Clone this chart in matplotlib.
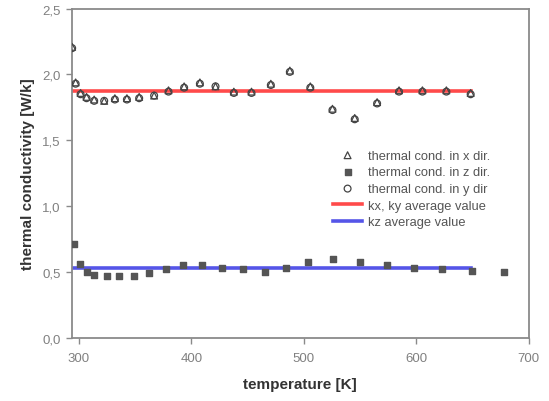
import matplotlib.pyplot as plt
from matplotlib.ticker import FuncFormatter

plt.rcParams['font.family'] = ['Liberation Sans', 'DejaVu Sans']

# thermal conductivity in x / y direction (overlapping markers)
temp_xy = [294.0, 297.1, 301.5, 306.8, 313.6, 322.5, 332.0, 342.7, 353.6, 366.9,
           379.7, 393.6, 407.6, 421.5, 437.8, 453.5, 470.7, 487.6, 505.8, 525.5,
           545.3, 565.2, 584.7, 605.5, 626.8, 648.4]
k_x = [2.21, 1.94, 1.86, 1.83, 1.81, 1.80, 1.82, 1.82, 1.83, 1.84,
       1.88, 1.91, 1.94, 1.91, 1.87, 1.87, 1.93, 2.03, 1.91, 1.74,
       1.67, 1.79, 1.88, 1.88, 1.88, 1.86]
k_y = [2.20, 1.93, 1.85, 1.82, 1.80, 1.80, 1.81, 1.81, 1.82, 1.84,
       1.87, 1.90, 1.93, 1.91, 1.86, 1.86, 1.92, 2.02, 1.90, 1.73,
       1.66, 1.78, 1.87, 1.87, 1.87, 1.85]

# thermal conductivity in z direction
temp_z = [295.6, 300.9, 306.8, 313.6, 324.6, 335.8, 348.9, 362.2, 377.3, 392.7,
          409.3, 427.4, 446.0, 465.3, 484.6, 504.0, 526.0, 549.8, 574.0, 598.0,
          622.9, 650.0, 678.0]
k_z = [0.71, 0.56, 0.50, 0.48, 0.47, 0.47, 0.47, 0.49, 0.52, 0.55,
       0.55, 0.53, 0.52, 0.50, 0.53, 0.58, 0.60, 0.58, 0.55, 0.53,
       0.52, 0.51, 0.50]

# average values
avg_range = [293.8, 648.5]
kxy_avg = 1.876
kz_avg = 0.53

fig = plt.figure(figsize=(5.49, 4.02), dpi=100)
ax = fig.add_axes([0.131, 0.157, 0.832, 0.819])

ax.plot(avg_range, [kxy_avg, kxy_avg], color='#ff4a4a', lw=2.6, zorder=2,
        label='kx, ky average value')
ax.plot(avg_range, [kz_avg, kz_avg], color='#5555e8', lw=2.6, zorder=2,
        label='kz average value')

tri = ax.scatter(temp_xy, k_x, marker='^', s=24, facecolors='none',
                 edgecolors='#444444', linewidths=0.9, zorder=3)
circ = ax.scatter(temp_xy, k_y, marker='o', s=24, facecolors='none',
                  edgecolors='#444444', linewidths=0.9, zorder=3)
sq = ax.scatter(temp_z, k_z, marker='s', s=20, color='#555555', zorder=3)

ax.set_xlim(293.8, 700)
ax.set_ylim(0, 2.5)
ax.set_xticks([300, 400, 500, 600, 700])
ax.set_yticks([0, 0.5, 1.0, 1.5, 2.0, 2.5])
ax.yaxis.set_major_formatter(FuncFormatter(lambda v, p: f'{v:.1f}'.replace('.', ',')))

for s in ax.spines.values():
    s.set_color('#8a8a8a')
    s.set_linewidth(1.3)
ax.tick_params(direction='out', length=4.5, width=1, color='#8a8a8a',
               labelcolor='#808080', labelsize=9.5)
ax.tick_params(axis='x', pad=6)
ax.tick_params(axis='y', pad=3.5)

ax.set_xlabel('temperature [K]', fontsize=11, fontweight='bold', color='#333333', labelpad=9)
ax.set_ylabel('thermal conductivity [W/k]', fontsize=11, fontweight='bold', color='#333333', labelpad=5)

handles = [tri, sq, circ] + ax.get_lines()
labels = ['thermal cond. in x dir.', 'thermal cond. in z dir.', 'thermal cond. in y dir',
          'kx, ky average value', 'kz average value']
leg = ax.legend(handles, labels, loc='upper left', bbox_to_anchor=(0.571, 0.572),
                frameon=False, fontsize=9.3, handlelength=2.3, labelspacing=0.36,
                handletextpad=0.45, borderpad=0, borderaxespad=0)
for t in leg.get_texts():
    t.set_color('#555555')

fig.savefig('out.png', dpi=100)
